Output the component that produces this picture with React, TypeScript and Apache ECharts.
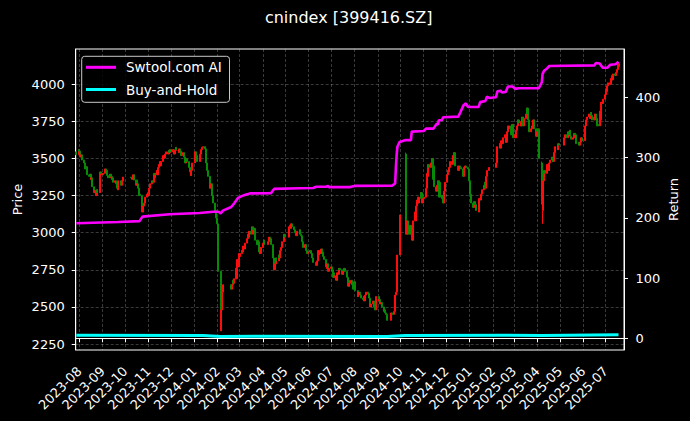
import React, { useEffect, useRef } from "react";
import * as echarts from "echarts";

const TITLE = "cnindex [399416.SZ]";
const PRICE_NAME = "Price";
const RETURN_NAME = "Return";
const SERIES_AI = "Swtool.com AI";
const SERIES_BH = "Buy-and-Hold";

const FIRST_DAY = "2023-07-28";
const LAST_DAY = "2025-07-18";
const FIRST_OPEN = 3545;
const X_MIN = "2023-07-27T05:00:00Z";
const X_MAX = "2025-07-25T07:00:00Z";
const PRICE_MIN = 2210;
const PRICE_MAX = 4238;
const RETURN_MIN = -19.4;
const RETURN_MAX = 480.2;

const xTickLabels = [
  "2023-08", "2023-09", "2023-10", "2023-11", "2023-12", "2024-01", "2024-02", "2024-03",
  "2024-04", "2024-05", "2024-06", "2024-07", "2024-08", "2024-09", "2024-10", "2024-11",
  "2024-12", "2025-01", "2025-02", "2025-03", "2025-04", "2025-05", "2025-06", "2025-07",
];
const priceTicks = [2250, 2500, 2750, 3000, 3250, 3500, 3750, 4000];
const returnTicks = [0, 100, 200, 300, 400];

// exchange holidays (no trading)
const holidays = [
  "2023-09-29", "2023-10-02", "2023-10-03", "2023-10-04", "2023-10-05", "2023-10-06",
  "2024-01-01", "2024-02-09", "2024-02-12", "2024-02-13", "2024-02-14", "2024-02-15", "2024-02-16",
  "2024-04-04", "2024-04-05", "2024-05-01", "2024-05-02", "2024-05-03", "2024-06-10",
  "2024-09-16", "2024-09-17", "2024-10-01", "2024-10-02", "2024-10-03", "2024-10-04", "2024-10-07",
  "2025-01-01", "2025-01-28", "2025-01-29", "2025-01-30", "2025-01-31", "2025-02-03", "2025-02-04",
  "2025-04-04", "2025-05-01", "2025-05-02", "2025-05-05", "2025-06-02",
];

// daily closes, month by month (one value per trading day)
const c2023_07 = [3525, 3560];
const c2023_08 = [3550, 3510, 3525, 3490, 3470, 3455, 3430, 3445, 3390, 3380, 3395, 3360, 3370, 3310, 3270, 3285, 3250, 3290, 3270, 3370, 3410, 3400, 3390];
const c2023_09 = [3400, 3430, 3410, 3420, 3385, 3370, 3395, 3380, 3360, 3370, 3340, 3350, 3330, 3300, 3290, 3350, 3330, 3320, 3350, 3375];
const c2023_10 = [3370, 3360, 3375, 3390, 3355, 3320, 3330, 3300, 3260, 3250, 3160, 3140, 3180, 3200, 3240, 3260, 3250];
const c2023_11 = [3270, 3300, 3330, 3350, 3340, 3370, 3400, 3390, 3420, 3440, 3460, 3450, 3480, 3500, 3520, 3505, 3530, 3545, 3530, 3555, 3540, 3560];
const c2023_12 = [3545, 3560, 3530, 3555, 3575, 3560, 3540, 3565, 3550, 3520, 3540, 3510, 3490, 3470, 3500, 3480, 3440, 3410, 3385, 3420, 3470];
const c2024_01 = [3545, 3520, 3500, 3480, 3510, 3530, 3560, 3575, 3580, 3565, 3540, 3470, 3420, 3380, 3300, 3330, 3280, 3250, 3200, 3150, 3100, 3060];
const c2024_02 = [2900, 2740, 2340, 2480, 2600, 2650, 2620, 2650, 2680, 2660, 2690, 2760, 2820, 2770, 2840];
const c2024_03 = [2860, 2880, 2870, 2910, 2890, 2930, 2960, 2990, 2970, 3010, 2990, 3040, 3020, 3030, 2990, 2950, 2920, 2940, 2870, 2860, 2900];
const c2024_04 = [2930, 2950, 2920, 2940, 2970, 2950, 2960, 2920, 2830, 2750, 2790, 2830, 2810, 2850, 2830, 2880, 2900, 2940, 2990, 2970];
const c2024_05 = [3040, 3050, 3030, 3060, 3040, 3020, 3000, 2980, 3000, 3010, 3020, 2990, 2980, 2940, 2900, 2920, 2900, 2880, 2860, 2870];
const c2024_06 = [2880, 2860, 2840, 2830, 2800, 2780, 2810, 2850, 2880, 2860, 2890, 2870, 2840, 2820, 2770, 2760, 2790, 2740, 2760];
const c2024_07 = [2770, 2750, 2730, 2700, 2710, 2680, 2730, 2720, 2760, 2750, 2730, 2720, 2740, 2760, 2740, 2700, 2660, 2640, 2660, 2680, 2650, 2620, 2670];
const c2024_08 = [2650, 2610, 2570, 2590, 2600, 2580, 2560, 2550, 2570, 2540, 2580, 2600, 2590, 2560, 2530, 2500, 2520, 2540, 2500, 2480, 2520, 2570];
const c2024_09 = [2540, 2550, 2520, 2530, 2500, 2470, 2480, 2460, 2450, 2410, 2420, 2460, 2450, 2470, 2580, 2600, 2740, 2850, 3120];
const c2024_10 = [3290, 2990, 3080, 2990, 3050, 2990, 2970, 2950, 3080, 3140, 3180, 3220, 3200, 3240, 3270, 3230, 3200, 3230];
const c2024_11 = [3240, 3300, 3380, 3400, 3460, 3440, 3470, 3500, 3450, 3360, 3310, 3280, 3320, 3350, 3340, 3240, 3250, 3230, 3200, 3280, 3340];
const c2024_12 = [3390, 3420, 3410, 3440, 3480, 3460, 3520, 3540, 3530, 3450, 3440, 3420, 3450, 3440, 3430, 3380, 3420, 3440, 3450, 3440, 3430, 3350];
const c2025_01 = [3260, 3200, 3170, 3210, 3190, 3180, 3150, 3140, 3230, 3220, 3260, 3290, 3320, 3340, 3300, 3380, 3420, 3440];
const c2025_02 = [3470, 3530, 3580, 3600, 3570, 3620, 3600, 3640, 3660, 3610, 3650, 3680, 3720, 3700, 3660, 3700, 3730, 3640];
const c2025_03 = [3660, 3690, 3720, 3760, 3740, 3720, 3750, 3780, 3720, 3770, 3800, 3840, 3800, 3760, 3680, 3700, 3720, 3740, 3760, 3700, 3650];
const c2025_04 = [3680, 3700, 3500, 3210, 3260, 3350, 3420, 3400, 3460, 3440, 3420, 3470, 3490, 3510, 3480, 3540, 3560, 3580, 3560, 3600, 3590];
const c2025_05 = [3620, 3640, 3660, 3640, 3680, 3660, 3690, 3650, 3630, 3640, 3670, 3660, 3620, 3600, 3610, 3590, 3610, 3640, 3620];
const c2025_06 = [3680, 3720, 3760, 3780, 3800, 3770, 3810, 3790, 3760, 3780, 3800, 3770, 3730, 3720, 3760, 3820, 3880, 3870, 3900, 3930];
const c2025_07 = [3950, 3970, 3990, 4010, 4000, 4040, 4030, 4060, 4070, 4060, 4080, 4100, 4120, 4140];

const monthCloses: [string, number[]][] = [
  ["2023-07", c2023_07], ["2023-08", c2023_08], ["2023-09", c2023_09], ["2023-10", c2023_10],
  ["2023-11", c2023_11], ["2023-12", c2023_12], ["2024-01", c2024_01], ["2024-02", c2024_02],
  ["2024-03", c2024_03], ["2024-04", c2024_04], ["2024-05", c2024_05], ["2024-06", c2024_06],
  ["2024-07", c2024_07], ["2024-08", c2024_08], ["2024-09", c2024_09], ["2024-10", c2024_10],
  ["2024-11", c2024_11], ["2024-12", c2024_12], ["2025-01", c2025_01], ["2025-02", c2025_02],
  ["2025-03", c2025_03], ["2025-04", c2025_04], ["2025-05", c2025_05], ["2025-06", c2025_06],
  ["2025-07", c2025_07],
];

// days with a full [open, close, low, high] reading
const specialCandles: [string, number, number, number, number][] = [
  ["2024-10-08", 3530, 3290, 3100, 3540],
  ["2025-04-07", 3470, 3210, 3190, 3480],
  ["2025-04-08", 3150, 3260, 3060, 3270],
];

// strategy cumulative return (right axis)
const aiDates = [
  "2023-07-28", "2023-09-22", "2023-10-20", "2023-10-24", "2023-11-29", "2024-01-08", "2024-01-26",
  "2024-02-02", "2024-02-05", "2024-02-08", "2024-02-19", "2024-02-23", "2024-02-28", "2024-03-04",
  "2024-03-08", "2024-03-15", "2024-04-12", "2024-04-16", "2024-05-20", "2024-06-07", "2024-06-11",
  "2024-06-25", "2024-06-26", "2024-06-28", "2024-07-26", "2024-08-01", "2024-09-20", "2024-09-24",
  "2024-09-25", "2024-09-26", "2024-09-27", "2024-09-30", "2024-10-08", "2024-10-15", "2024-10-16",
  "2024-11-01", "2024-11-04", "2024-11-14", "2024-11-18", "2024-11-20", "2024-11-21", "2024-11-25",
  "2024-11-27", "2024-12-17", "2024-12-20", "2024-12-24", "2024-12-27", "2024-12-30", "2025-01-13",
  "2025-01-15", "2025-01-22", "2025-01-24", "2025-01-27", "2025-02-05", "2025-02-07", "2025-02-11",
  "2025-02-13", "2025-02-18", "2025-02-21", "2025-02-27", "2025-03-03", "2025-03-07", "2025-04-03",
  "2025-04-07", "2025-04-08", "2025-04-10", "2025-04-14", "2025-04-17", "2025-06-16", "2025-06-18",
  "2025-06-23", "2025-06-27", "2025-07-03", "2025-07-07", "2025-07-14", "2025-07-18",
];
const aiValues = [
  191, 193, 194.5, 202, 206, 208, 210,
  210, 207.5, 212, 218, 224, 233, 236,
  238, 240.5, 241, 248, 249, 249.5, 251.5,
  251.5, 253.5, 251, 251, 253, 253.5, 257,
  285, 305, 318, 326, 329, 329, 343,
  344, 348, 348, 356, 355, 362, 362,
  367, 368, 376, 387, 390, 384, 384,
  392, 394, 401, 399, 400, 410, 411,
  408, 409, 418, 418, 414, 415, 415,
  425, 439, 444, 448, 452, 453, 457,
  456, 449, 449, 454, 455, 459,
];

// buy-and-hold return (right axis)
const bhDates = [
  "2023-07-28", "2024-01-12", "2024-02-05", "2024-03-20", "2024-09-13",
  "2024-10-08", "2025-02-20", "2025-04-07", "2025-07-18",
];
const bhValues = [5.0, 4.8, 3.2, 3.6, 3.0, 4.6, 5.0, 4.6, 6.0];

const FONT = "DejaVu Sans";

function ms(d: string): number {
  return Date.parse(d.length === 10 ? d + "T00:00:00Z" : d);
}

function buildCandles(): number[][] {
  const hol = new Set(holidays);
  const start = ms(FIRST_DAY);
  const end = ms(LAST_DAY);
  const special = new Map(specialCandles.map((s) => [s[0], s]));
  const out: number[][] = [];
  let prev = FIRST_OPEN;
  for (const [ym, closes] of monthCloses) {
    const [y, m] = ym.split("-").map(Number);
    const days: number[] = [];
    for (let d = 1; d <= 31; d++) {
      const t = Date.UTC(y, m - 1, d);
      const dt = new Date(t);
      if (dt.getUTCMonth() !== m - 1) break;
      const wd = dt.getUTCDay();
      if (wd === 0 || wd === 6) continue;
      if (hol.has(dt.toISOString().slice(0, 10))) continue;
      if (t < start || t > end) continue;
      days.push(t);
    }
    const n = Math.min(days.length, closes.length);
    for (let i = 0; i < n; i++) {
      const iso = new Date(days[i]).toISOString().slice(0, 10);
      const s = special.get(iso);
      if (s) {
        out.push([days[i], s[1], s[2], s[3], s[4]]);
        prev = s[2];
        continue;
      }
      const o = prev;
      const c = closes[i];
      out.push([days[i], o, c, Math.min(o, c), Math.max(o, c)]);
      prev = c;
    }
  }
  return out;
}

function fmtMonth(v: number): string {
  const d = new Date(v);
  return d.getUTCFullYear() + "-" + String(d.getUTCMonth() + 1).padStart(2, "0");
}

export default function App() {
  const ref = useRef<HTMLDivElement>(null);

  useEffect(() => {
    document.body.style.margin = "0";
    document.body.style.background = "#000";
    if (!ref.current) return;
    const chart = echarts.init(ref.current, null, { renderer: "svg" });

    const candles = buildCandles();
    const monthTicks = xTickLabels.map((s) => ms(s + "-01"));
    const ai = aiDates.map((d, i) => [ms(d), aiValues[i]]);
    const bh = bhDates.map((d, i) => [ms(d), bhValues[i]]);

    const gridLine = { show: true, lineStyle: { color: "rgba(255,255,255,0.32)", type: [3, 2], width: 0.7 } };
    const axisText = { color: "#fff", fontSize: 13, fontFamily: FONT };
    const plain = (v: number) => String(v);

    const option: any = {
      animation: false,
      backgroundColor: "#000",
      textStyle: { fontFamily: FONT },
      grid: {
        left: 75.7, right: 66, top: 49, bottom: 71,
        show: true, borderColor: "#fff", borderWidth: 1, backgroundColor: "transparent",
        containLabel: false, outerBoundsMode: "none",
      },
      graphic: [
        {
          type: "text", x: 348.7, y: 17.8, z: 10,
          style: { text: TITLE, fill: "#fff", font: `16px "${FONT}"`, textAlign: "center", textVerticalAlign: "middle" },
        },
      ],
      legend: {
        data: [SERIES_AI, SERIES_BH],
        orient: "vertical", left: 81.7, top: 56.3,
        padding: [4, 7.7, 5.8, 4.3],
        itemGap: 8.2, itemWidth: 30, itemHeight: 3, icon: "rect",
        backgroundColor: "rgba(0,0,0,0.85)", borderColor: "#c8c8c8", borderWidth: 1, borderRadius: 3,
        textStyle: { color: "#fff", fontSize: 13.5, fontFamily: FONT, padding: [0, 0, 0, 5] },
        selectedMode: false, z: 10,
      },
      xAxis: {
        type: "value", min: ms(X_MIN), max: ms(X_MAX),
        axisLine: { show: true, lineStyle: { color: "#fff", width: 1 } },
        axisTick: { show: true, inside: false, length: 4, lineStyle: { color: "#fff" }, customValues: monthTicks },
        axisLabel: { ...axisText, rotate: 45, margin: 19, customValues: monthTicks, formatter: (v: number) => fmtMonth(v), hideOverlap: false },
        splitLine: gridLine,
      },
      yAxis: [
        {
          type: "value", position: "left", min: PRICE_MIN, max: PRICE_MAX,
          name: PRICE_NAME, nameLocation: "middle", nameGap: 52, nameRotate: 90, nameMoveOverlap: false,
          nameTextStyle: axisText,
          axisLine: { show: true, lineStyle: { color: "#fff", width: 1 } },
          axisTick: { show: true, length: 4, lineStyle: { color: "#fff" }, customValues: priceTicks },
          axisLabel: { ...axisText, margin: 11, customValues: priceTicks, formatter: plain },
          splitLine: gridLine,
        },
        {
          type: "value", position: "right", min: RETURN_MIN, max: RETURN_MAX,
          name: RETURN_NAME, nameLocation: "middle", nameGap: 43, nameRotate: 90, nameMoveOverlap: false,
          nameTextStyle: axisText,
          axisLine: { show: true, lineStyle: { color: "#fff", width: 1 } },
          axisTick: { show: true, length: 4, lineStyle: { color: "#fff" }, customValues: returnTicks },
          axisLabel: { ...axisText, margin: 11.5, customValues: returnTicks, formatter: plain },
          splitLine: { show: false },
        },
      ],
      series: [
        {
          type: "candlestick", name: "Price", yAxisIndex: 0, data: candles,
          barWidth: 1.6, z: 2, large: false,
          itemStyle: { color: "#ff0d0d", color0: "#078a07", borderColor: "#ff0d0d", borderColor0: "#078a07", borderWidth: 1 },
        },
        {
          type: "line", name: SERIES_AI, yAxisIndex: 1, data: ai, showSymbol: false, z: 4,
          color: "#ff00ff", itemStyle: { color: "#ff00ff" },
          lineStyle: { color: "#ff00ff", width: 2.6 },
        },
        {
          type: "line", name: SERIES_BH, yAxisIndex: 1, data: bh, showSymbol: false, z: 4,
          color: "#00ffff", itemStyle: { color: "#00ffff" },
          lineStyle: { color: "#00ffff", width: 3 },
        },
      ],
    };

    chart.setOption(option);
    return () => chart.dispose();
  }, []);

  return (
    <div
      ref={ref}
      style={{ position: "fixed", left: 0, top: 0, width: 690, height: 421, background: "#000" }}
    />
  );
}
